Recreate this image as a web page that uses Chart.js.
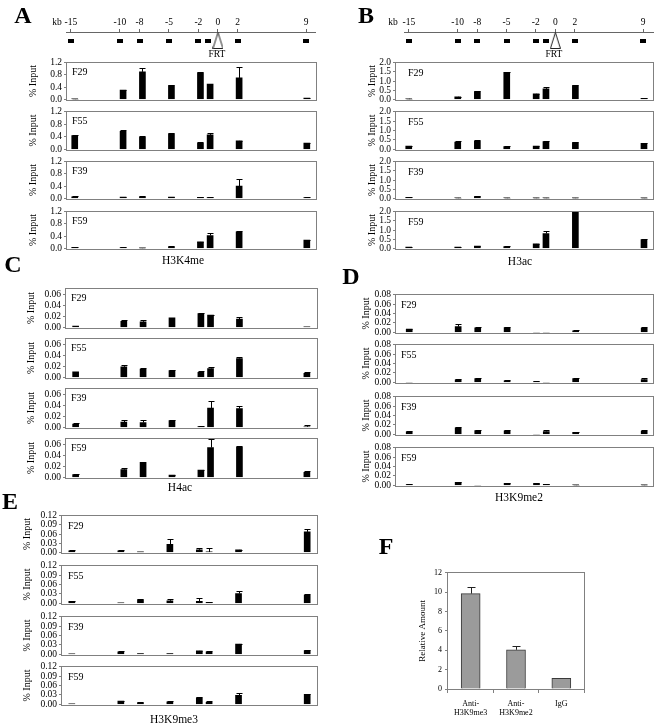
<!DOCTYPE html>
<html><head><meta charset="utf-8">
<script src="https://cdn.jsdelivr.net/npm/chart.js@4.4.1/dist/chart.umd.min.js"></script>
<style>
html,body{margin:0;padding:0;background:#fff;}
#root{position:relative;width:656px;height:728px;overflow:hidden;font-family:'Liberation Serif','Times New Roman',serif;color:#000;background:#fff;}
.t{position:absolute;white-space:nowrap;line-height:1;transform:translate(-50%,-50%);}
.tl{position:absolute;white-space:nowrap;line-height:1;transform:translate(0,-50%);}
canvas{position:absolute;}
</style></head><body><div id="root"></div>
<script>
// ---------- DATA ----------
const siteKb = [-15, -10, -8, -5, -2, -1, 2, 9];
const mapTickKb = [-15, -10, -8, -5, -2, 0, 2, 9];
const strains = ['F29', 'F55', 'F39', 'F59'];

// A: H3K4me (% input)
const h3k4meF29 = [0.01, 0.30, 0.90, 0.45, 0.87, 0.50, 0.70, 0.04];
const h3k4meF29Err = [0.005, 0.01, 0.13, 0.01, 0.03, 0, 0.35, 0.01];
const h3k4meF55 = [0.44, 0.57, 0.39, 0.49, 0.20, 0.46, 0.27, 0.20];
const h3k4meF55Err = [0.01, 0.04, 0.02, 0.02, 0.03, 0.06, 0.01, 0.01];
const h3k4meF39 = [0.05, 0.04, 0.05, 0.04, 0.03, 0.02, 0.40, 0.02];
const h3k4meF39Err = [0.01, 0.01, 0.01, 0.01, 0.01, 0.01, 0.22, 0.01];
const h3k4meF59 = [0.03, 0.02, 0.01, 0.05, 0.21, 0.42, 0.54, 0.27];
const h3k4meF59Err = [0.01, 0.01, 0.01, 0.01, 0.01, 0.08, 0.04, 0.01];

// B: H3ac
const h3acF29 = [0.03, 0.14, 0.42, 1.48, 0.30, 0.57, 0.75, 0.05];
const h3acF29Err = [0.01, 0.01, 0.02, 0.03, 0.01, 0.12, 0.05, 0.01];
const h3acF55 = [0.17, 0.39, 0.44, 0.15, 0.17, 0.41, 0.36, 0.32];
const h3acF55Err = [0.01, 0.05, 0.06, 0.01, 0.01, 0.05, 0.02, 0.02];
const h3acF39 = [0.05, 0.02, 0.09, 0.02, 0.02, 0.02, 0.02, 0.01];
const h3acF39Err = [0.01, 0.01, 0.01, 0.01, 0.01, 0.01, 0.01, 0.01];
const h3acF59 = [0.07, 0.07, 0.12, 0.09, 0.24, 0.81, 2.0, 0.47];
const h3acF59Err = [0.01, 0.01, 0.01, 0.01, 0.01, 0.16, 0, 0.02];

// C: H4ac
const h4acF29 = [0.002, 0.011, 0.010, 0.017, 0.025, 0.022, 0.015, 0.001];
const h4acF29Err = [0, 0.003, 0.004, 0, 0.001, 0.001, 0.004, 0];
const h4acF55 = [0.010, 0.019, 0.015, 0.012, 0.009, 0.016, 0.034, 0.007];
const h4acF55Err = [0, 0.003, 0.001, 0.001, 0.003, 0.002, 0.003, 0.003];
const h4acF39 = [0.006, 0.0095, 0.0085, 0.012, 0.0015, 0.035, 0.034, 0.001];
const h4acF39Err = [0.001, 0.003, 0.0045, 0.001, 0.0005, 0.012, 0.004, 0.0035];
const h4acF59 = [0.005, 0.014, 0.027, 0.004, 0.013, 0.054, 0.055, 0.009];
const h4acF59Err = [0.0005, 0.003, 0, 0.0005, 0.0005, 0.016, 0.002, 0.002];

// D: H3K9me2
const h3k9me2F29 = [0.007, 0.012, 0.0097, 0.010, 0, 0, 0.003, 0.009];
const h3k9me2F29Err = [0.001, 0.005, 0.001, 0.002, 0, 0, 0.001, 0.002];
const h3k9me2F55 = [0, 0.0055, 0.008, 0.003, 0.001, 0, 0.008, 0.006];
const h3k9me2F55Err = [0, 0.001, 0.0016, 0.001, 0.002, 0, 0.001, 0.003];
const h3k9me2F39 = [0.0054, 0.0136, 0.008, 0.0075, 0, 0.006, 0.004, 0.0068];
const h3k9me2F39Err = [0.002, 0.002, 0.002, 0.0015, 0, 0.004, 0.0005, 0.003];
const h3k9me2F59 = [0.0014, 0.0063, 0, 0.0042, 0.0035, 0.002, 0.0007, 0.0007];
const h3k9me2F59Err = [0.0005, 0.001, 0, 0.0005, 0.0005, 0.0005, 0.0005, 0.0005];

// E: H3K9me3
const h3k9me3F29 = [0.005, 0.005, 0.0005, 0.026, 0.0083, 0.001, 0.008, 0.067];
const h3k9me3F29Err = [0.001, 0.001, 0, 0.018, 0.007, 0.013, 0.001, 0.008];
const h3k9me3F55 = [0.006, 0.001, 0.011, 0.008, 0.006, 0.003, 0.031, 0.026];
const h3k9me3F55Err = [0.001, 0, 0.003, 0.006, 0.011, 0.001, 0.008, 0.003];
const h3k9me3F39 = [0.001, 0.008, 0.002, 0.002, 0.011, 0.008, 0.033, 0.012];
const h3k9me3F39Err = [0, 0.001, 0, 0, 0.001, 0.001, 0.001, 0.001];
const h3k9me3F59 = [0.001, 0.010, 0.005, 0.008, 0.021, 0.006, 0.029, 0.032];
const h3k9me3F59Err = [0, 0.001, 0.001, 0.002, 0.003, 0.003, 0.008, 0.002];

// F: relative amount
const fLabels = [['Anti-', 'H3K9me3'], ['Anti-', 'H3K9me2'], 'IgG'];
const fValues = [9.85, 4.05, 1.1];
const fErrors = [0.7, 0.4, 0];

// ---------- STYLE / LAYOUT ----------
Chart.defaults.font.family = "'Liberation Serif','Times New Roman',serif";
Chart.defaults.color = '#000';
const FRAME = '#808080';
const root = document.getElementById('root');

function addCanvas(left, top, w, h) {
  const c = document.createElement('canvas');
  c.width = w; c.height = h;
  c.style.left = left + 'px'; c.style.top = top + 'px';
  c.style.width = w + 'px'; c.style.height = h + 'px';
  root.appendChild(c);
  return c;
}
function text(str, x, y, size, extra, cls) {
  const d = document.createElement('div');
  d.className = cls || 't';
  d.textContent = str;
  d.style.left = x + 'px'; d.style.top = y + 'px';
  d.style.fontSize = size + 'px';
  if (extra) Object.assign(d.style, extra);
  root.appendChild(d);
  return d;
}

const errorBarPlugin = {
  id: 'errorBars',
  afterDatasetsDraw(chart, args, opts) {
    const errs = opts.errors; if (!errs) return;
    const meta = chart.getDatasetMeta(0);
    const ys = chart.scales.y, ca = chart.chartArea, ctx = chart.ctx;
    const raw = chart.data.datasets[0].data;
    ctx.save();
    ctx.beginPath(); ctx.rect(ca.left, ca.top - 1, ca.right - ca.left, ca.bottom - ca.top + 1); ctx.clip();
    ctx.strokeStyle = opts.color || '#000'; ctx.lineWidth = 1;
    meta.data.forEach((bar, i) => {
      const e = errs[i]; if (!e) return;
      const v = (raw[i] !== null && typeof raw[i] === 'object') ? raw[i].y : raw[i];
      const y0 = ys.getPixelForValue(v);
      const y1 = Math.round(ys.getPixelForValue(v + e)) + 0.5;
      const x = Math.round(bar.x) + 0.5, half = opts.cap || 3;
      ctx.beginPath();
      ctx.moveTo(x, y0); ctx.lineTo(x, y1);
      ctx.moveTo(x - half, y1); ctx.lineTo(x + half, y1);
      ctx.stroke();
    });
    ctx.restore();
  }
};
const framePlugin = {
  id: 'frame',
  afterDraw(chart, args, opts) {
    const {left, top, right, bottom} = chart.chartArea;
    const ctx = chart.ctx;
    ctx.save();
    ctx.strokeStyle = opts.color || FRAME; ctx.lineWidth = 1;
    ctx.strokeRect(Math.round(left) - 0.5, Math.round(top) - 0.5, Math.round(right - left) + 1, Math.round(bottom - top) + 1);
    ctx.restore();
  }
};

function histChart(p, idx, values, errors) {
  const plotTop = p.tops[idx], plotBottom = p.bottoms[idx];
  const W = p.plotLeft - Math.round(p.titleX - 6);
  const padT = 7, padB = 7, padR = 4;
  const left = p.plotLeft - W, top = plotTop - padT;
  const w = W + (p.right - p.plotLeft) + padR;
  const h = (plotBottom - plotTop) + padT + padB;
  const c = addCanvas(left, top, w, h);
  new Chart(c, {
    type: 'bar',
    data: { datasets: [{
      data: siteKb.map((x, i) => ({ x, y: values[i] })),
      backgroundColor: '#000', borderWidth: 0, barThickness: 6
    }]},
    options: {
      responsive: false, animation: false, events: [],
      layout: { autoPadding: false, padding: { top: padT, bottom: padB, left: 0, right: padR } },
      plugins: { legend: { display: false }, tooltip: { enabled: false },
        errorBars: { errors, cap: 3 }, frame: { color: FRAME } },
      scales: {
        x: { type: 'linear', display: false, min: p.xMin, max: p.xMax, offset: false },
        y: {
          min: 0, max: p.yMax,
          afterFit(s) { s.width = W; },
          border: { display: false },
          grid: { drawOnChartArea: false, drawTicks: true, tickLength: 3, color: FRAME },
          ticks: { stepSize: p.step, includeBounds: p.includeBounds !== false, padding: 2, autoSkip: false,
                   font: { size: 9.5 }, color: '#000', callback: v => Number(v).toFixed(p.dec) },
          title: { display: true, text: '% Input', font: { size: 10 }, padding: 0, color: '#000' }
        }
      }
    },
    plugins: [errorBarPlugin, framePlugin]
  });
  text(strains[idx], p.plotLeft + p.labOff, plotTop + p.labDy, 10, null, 'tl');
}

// pointstyle images for the locus map
const markImg = document.createElement('canvas');
markImg.width = 6; markImg.height = 4;
(function () { const g = markImg.getContext('2d'); g.fillStyle = '#000'; g.fillRect(0, 0, 6, 4); })();
const triImg = document.createElement('canvas');
triImg.width = 11; triImg.height = 17;
(function () {
  const g = triImg.getContext('2d');
  g.fillStyle = '#fff'; g.strokeStyle = '#222'; g.lineWidth = 1;
  g.beginPath(); g.moveTo(5.5, 0.5); g.lineTo(10.5, 16.5); g.lineTo(0.5, 16.5); g.closePath();
  g.fill(); g.stroke();
})();

function mapChart(m) {
  const padL = 12, padR = 12, axisH = 17, plotH = 26;
  const axisY = 32;
  const markPx = 40.5; // centre of markers below axis line
  const c = addCanvas(m.plotLeft - padL, axisY - axisH, (m.right - m.plotLeft) + padL + padR, axisH + plotH);
  new Chart(c, {
    type: 'scatter',
    data: { datasets: [
      { data: siteKb.map(x => ({ x, y: 1 - (markPx - axisY) / plotH })), pointStyle: markImg, pointRadius: 4 },
      { data: [{ x: 0, y: 1 - (markPx - axisY) / plotH }], pointStyle: triImg, pointRadius: 6 }
    ]},
    options: {
      responsive: false, animation: false, events: [],
      layout: { autoPadding: false, padding: { left: padL, right: padR, top: 0, bottom: 0 } },
      plugins: { legend: { display: false }, tooltip: { enabled: false } },
      scales: {
        x: {
          type: 'linear', position: 'top', min: m.xMin, max: m.xMax,
          afterFit(s) { s.height = axisH; },
          afterBuildTicks(s) { s.ticks = mapTickKb.map(v => ({ value: v })); },
          border: { display: true, color: '#666' },
          grid: { drawOnChartArea: false, drawTicks: true, tickLength: 3, color: '#666' },
          ticks: { font: { size: 9.5 }, padding: 1, color: '#000', autoSkip: false, maxRotation: 0,
                   callback: v => String(v) }
        },
        y: { display: false, min: 0, max: 1 }
      }
    }
  });
  text('kb', m.kbX, 23, 9.5);
  text('FRT', m.frtX, 55, 9.5);
}

// ---------- PANELS ----------
const panelA = { plotLeft: 67, right: 316, tops: [62, 111, 161, 211], bottoms: [100, 150, 199, 249],
  titleX: 33, xMin: -15.8, xMax: 9.95, yMax: 1.2, step: 0.4, dec: 1, labOff: 5, labDy: 10 };
const panelB = { plotLeft: 396, right: 653, tops: [62, 111, 161, 211], bottoms: [100, 150, 199, 249],
  titleX: 372, xMin: -16.3, xMax: 9.92, yMax: 2.0, step: 0.5, dec: 1, labOff: 12, labDy: 11 };
const panelC = { plotLeft: 66, right: 317, tops: [288, 338, 388, 438], bottoms: [328, 378, 428, 478],
  titleX: 31, xMin: -16.0, xMax: 10.05, yMax: 0.07, step: 0.02, dec: 2, includeBounds: false, labOff: 5, labDy: 10 };
const panelD = { plotLeft: 396, right: 653, tops: [294, 344, 396, 447], bottoms: [333, 383, 435, 486],
  titleX: 366, xMin: -16.35, xMax: 9.9, yMax: 0.08, step: 0.02, dec: 2, labOff: 5, labDy: 11 };
const panelE = { plotLeft: 62, right: 317, tops: [515, 565, 616, 666], bottoms: [553, 604, 655, 705],
  titleX: 27, xMin: -16.0, xMax: 10.0, yMax: 0.12, step: 0.03, dec: 2, labOff: 6, labDy: 11 };

[[h3k4meF29, h3k4meF29Err], [h3k4meF55, h3k4meF55Err], [h3k4meF39, h3k4meF39Err], [h3k4meF59, h3k4meF59Err]]
  .forEach((d, i) => histChart(panelA, i, d[0], d[1]));
[[h3acF29, h3acF29Err], [h3acF55, h3acF55Err], [h3acF39, h3acF39Err], [h3acF59, h3acF59Err]]
  .forEach((d, i) => histChart(panelB, i, d[0], d[1]));
[[h4acF29, h4acF29Err], [h4acF55, h4acF55Err], [h4acF39, h4acF39Err], [h4acF59, h4acF59Err]]
  .forEach((d, i) => histChart(panelC, i, d[0], d[1]));
[[h3k9me2F29, h3k9me2F29Err], [h3k9me2F55, h3k9me2F55Err], [h3k9me2F39, h3k9me2F39Err], [h3k9me2F59, h3k9me2F59Err]]
  .forEach((d, i) => histChart(panelD, i, d[0], d[1]));
[[h3k9me3F29, h3k9me3F29Err], [h3k9me3F55, h3k9me3F55Err], [h3k9me3F39, h3k9me3F39Err], [h3k9me3F59, h3k9me3F59Err]]
  .forEach((d, i) => histChart(panelE, i, d[0], d[1]));

mapChart({ plotLeft: 66, right: 315, xMin: -15.5, xMax: 9.9, kbX: 57, frtX: 217 });
mapChart({ plotLeft: 404, right: 653, xMin: -15.5, xMax: 10.0, kbX: 393, frtX: 554 });

// Panel F
(function () {
  const plotLeft = 448, right = 584, plotTop = 571, plotBottom = 689;
  const titleX = 422, W = plotLeft - Math.round(titleX - 5.4);
  const padT = 6, padR = 12, axisH = 30;
  const c = addCanvas(plotLeft - W, plotTop - padT, W + (right - plotLeft) + padR, (plotBottom - plotTop) + padT + axisH);
  new Chart(c, {
    type: 'bar',
    data: { labels: fLabels, datasets: [{ data: fValues, backgroundColor: '#9b9b9b', borderColor: '#3a3a3a',
      borderWidth: 1, barThickness: 19 }] },
    options: {
      responsive: false, animation: false, events: [],
      layout: { autoPadding: false, padding: { top: padT, bottom: 0, left: 0, right: padR } },
      plugins: { legend: { display: false }, tooltip: { enabled: false },
        errorBars: { errors: fErrors, cap: 4, color: '#222' }, frame: { color: FRAME } },
      scales: {
        x: { afterFit(s) { s.height = axisH; },
          border: { display: false },
          grid: { drawOnChartArea: false, drawTicks: true, tickLength: 4, color: FRAME, offset: true },
          ticks: { font: { size: 8 }, padding: 6, color: '#000', maxRotation: 0, autoSkip: false } },
        y: { min: 0, max: 12, afterFit(s) { s.width = W; },
          border: { display: false },
          grid: { drawOnChartArea: false, drawTicks: true, tickLength: 3, color: FRAME },
          ticks: { stepSize: 2, font: { size: 8 }, padding: 3, color: '#000', autoSkip: false },
          title: { display: true, text: 'Relative Amount', font: { size: 9 }, padding: 0, color: '#000' } }
      }
    },
    plugins: [errorBarPlugin, framePlugin]
  });
})();

// ---------- TEXT LABELS ----------
const L = { fontWeight: 'bold' };
text('A', 23, 15, 24, L);
text('B', 366, 15, 24, L);
text('C', 13, 264, 24, L);
text('D', 351, 276, 24, L);
text('E', 10, 501, 24, L);
text('F', 386, 546, 24, L);
text('H3K4me', 183, 261, 11.5);
text('H3ac', 520, 262, 11.5);
text('H4ac', 180, 488, 11.5);
text('H3K9me2', 519, 498, 11.5);
text('H3K9me3', 174, 720, 11.5);
</script></body></html>
